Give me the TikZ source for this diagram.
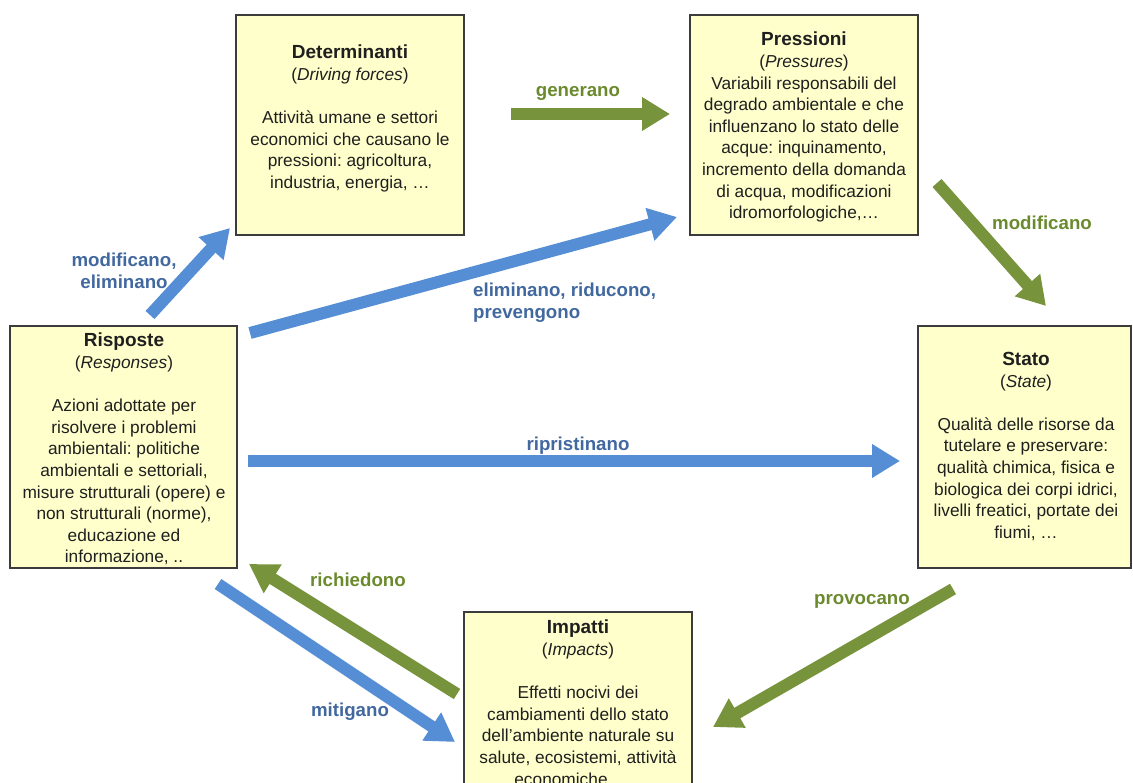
\documentclass[tikz,border=0pt]{standalone}
\usepackage{fontspec}
\setmainfont{Liberation Sans}
\usetikzlibrary{arrows.meta}
\frenchspacing
\definecolor{boxfill}{HTML}{FFFFCC}
\definecolor{boxline}{HTML}{3C3C3C}
\definecolor{arrblue}{HTML}{558ED5}
\definecolor{arrgreen}{HTML}{77933C}
\definecolor{txtblue}{HTML}{41689F}
\definecolor{txtgreen}{HTML}{6B8A2E}
\newcommand{\ttl}[1]{{\fontsize{19}{21.6}\selectfont\bfseries #1}}
\begin{document}
\begin{tikzpicture}[x=1pt,y=-1pt,
  box/.style={draw=boxline,line width=1.2pt,fill=boxfill,inner sep=0pt},
  boxtext/.style={align=center,inner sep=0pt,anchor=north,text=black!88,font=\fontsize{17.3}{21.6}\selectfont},
  arr/.style={line width=12pt,-{Triangle[length=28pt 0,width=32pt 0]}},
  bluearr/.style={arr,draw=arrblue},
  greenarr/.style={arr,draw=arrgreen},
  lbl/.style={inner sep=0pt,font=\fontsize{18.7}{21.6}\selectfont\bfseries},
  bluelbl/.style={lbl,text=txtblue},
  greenlbl/.style={lbl,text=txtgreen}]
\useasboundingbox (0,0) rectangle (1133,783);
\clip (0,0) rectangle (1133,783);
% boxes
\node[box,minimum width=228pt,minimum height=220pt] (det) at (350,125) {};
\node[box,minimum width=228pt,minimum height=220pt] (pre) at (804,125) {};
\node[box,minimum width=227pt,minimum height=242pt] (ris) at (123.5,447) {};
\node[box,minimum width=213pt,minimum height=242pt] (sta) at (1024.5,447) {};
\node[box,minimum width=228pt,minimum height=200pt] (imp) at (578,712) {};
% texts
\node[boxtext] (detT) at (350,45) {\ttl{Determinanti}\\(\textit{Driving forces})\\[21.6pt]
Attività umane e settori\\economici che causano le\\pressioni: agricoltura,\\industria, energia, \dots};
\node[boxtext] (preT) at (804,32) {\ttl{Pressioni}\\(\textit{Pressures})\\
Variabili responsabili del\\degrado ambientale e che\\influenzano lo stato delle\\acque: inquinamento,\\incremento della domanda\\di acqua, modificazioni\\idromorfologiche,\dots};
\node[boxtext] (risT) at (124,333) {\ttl{Risposte}\\(\textit{Responses})\\[21.6pt]
Azioni adottate per\\risolvere i problemi\\ambientali: politiche\\ambientali e settoriali,\\misure strutturali (opere) e\\non strutturali (norme),\\educazione ed\\informazione, ..};
\node[boxtext] (staT) at (1026,352) {\ttl{Stato}\\(\textit{State})\\[21.6pt]
Qualità delle risorse da\\tutelare e preservare:\\qualità chimica, fisica e\\biologica dei corpi idrici,\\livelli freatici, portate dei\\fiumi, \dots};
\node[boxtext] (impT) at (578,620) {\ttl{Impatti}\\(\textit{Impacts})\\[21.6pt]
Effetti nocivi dei\\cambiamenti dello stato\\dell’ambiente naturale su\\salute, ecosistemi, attività\\economiche\hspace*{34pt}};
% arrow end points
\coordinate (genA) at (511,114);   \coordinate (genB) at (670,114);
\coordinate (modA) at (937,183);   \coordinate (modB) at (1046,306);
\coordinate (proA) at (953,589);   \coordinate (proB) at (713,727);
\coordinate (ricA) at (457,694);   \coordinate (ricB) at (249,564);
\coordinate (mitA) at (218,584);   \coordinate (mitB) at (455,742);
\coordinate (ripA) at (248,461);   \coordinate (ripB) at (900,461);
\coordinate (eliA) at (250,333);   \coordinate (eliB) at (677,217);
\coordinate (mdeA) at (150,315);   \coordinate (mdeB) at (230,228);
% arrows
\draw[greenarr] (genA) -- (genB);
\draw[greenarr] (modA) -- (modB);
\draw[greenarr] (proA) -- (proB);
\draw[greenarr] (ricA) -- (ricB);
\draw[bluearr] (mitA) -- (mitB);
\draw[bluearr] (ripA) -- (ripB);
\draw[bluearr] (eliA) -- (eliB);
\draw[bluearr] (mdeA) -- (mdeB);
% labels
\node[greenlbl] (genL) at (578,93) {generano};
\node[greenlbl] (modL) at (1042,223) {modificano};
\node[greenlbl] (proL) at (862,601) {provocano};
\node[greenlbl] (ricL) at (358,580) {richiedono};
\node[bluelbl] (mitL) at (350,712) {mitigano};
\node[bluelbl] (ripL) at (578,446) {ripristinano};
\node[bluelbl,align=left,anchor=west] (eliL) at (473,302.5) {eliminano, riducono,\\prevengono};
\node[bluelbl,align=center] (mdeL) at (124,271) {modificano,\\eliminano};
\end{tikzpicture}
\end{document}
